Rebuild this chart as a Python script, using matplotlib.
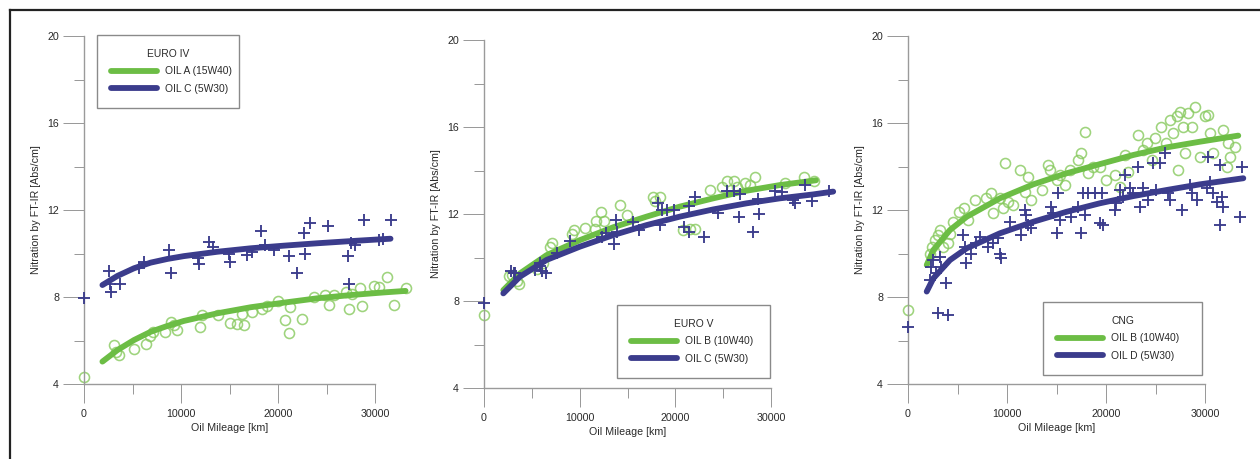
import matplotlib
matplotlib.use("Agg")
import matplotlib.pyplot as plt
from matplotlib.lines import Line2D
from matplotlib.ticker import MultipleLocator

plt.rcParams['font.family'] = ['Liberation Sans', 'DejaVu Sans']

# ---------------- data ----------------
# Panel 1: EURO IV
euro4_oilA_km = [0, 3050, 3250, 3600, 5150, 6400, 6800, 7100, 8400, 8950, 9300, 9600, 12000, 12200,
                 13850, 15000, 15800, 16500, 16300, 17300, 18300, 18900, 19950, 20750, 21150, 21200,
                 22450, 23750, 24800, 25250, 25750, 27000, 27300, 27600, 28500, 28650, 29850, 30400,
                 31250, 32000, 33150]
euro4_oilA_nit = [4.34, 5.8, 5.45, 5.35, 5.62, 5.85, 6.2, 6.4, 6.4, 6.85, 6.7, 6.5, 6.6, 7.15,
                  7.15, 6.8, 6.75, 6.7, 7.2, 7.3, 7.45, 7.6, 7.8, 6.95, 6.35, 7.55,
                  7.0, 8.0, 8.1, 7.65, 8.1, 8.25, 7.45, 8.15, 8.4, 7.6, 8.5, 8.45,
                  8.9, 7.65, 8.4]
euro4_oilC_km = [0, 2600, 2700, 2750, 3750, 5650, 6150, 8800, 8950, 11750, 11850, 12900, 13300,
                 14950, 15100, 16800, 17350, 18200, 18700, 19550, 21100, 22000, 22650, 22750,
                 23350, 25150, 27200, 27300, 27480, 27950, 28900, 30450, 30800, 31700]
euro4_oilC_nit = [7.94, 9.2, 8.6, 8.25, 8.6, 9.35, 9.6, 10.15, 9.1, 9.8, 9.5, 10.55, 10.3,
                  9.98, 9.6, 9.95, 10.05, 11.05, 10.38, 10.15, 9.9, 9.12, 10.95, 10.0,
                  11.38, 11.25, 9.9, 8.6, 10.5, 10.4, 11.55, 10.6, 10.65, 11.55]
euro4_fitA_km = [1900, 3450, 5150, 6870, 8600, 10300, 13750, 17200, 20600, 24050, 27500, 30900, 33150]
euro4_fitA_nit = [5.03, 5.56, 6.02, 6.40, 6.67, 6.90, 7.25, 7.53, 7.74, 7.94, 8.09, 8.21, 8.28]
euro4_fitC_km = [1900, 3450, 5150, 6870, 8600, 10300, 13750, 17200, 20600, 24050, 27500, 31600]
euro4_fitC_nit = [8.55, 8.97, 9.32, 9.58, 9.75, 9.88, 10.08, 10.24, 10.36, 10.47, 10.57, 10.68]

# Panel 2: EURO V
euro5_oilB_km = [0, 2600, 2900, 3500, 3700, 5500, 6200, 6900, 7100, 9200, 9400, 10600, 11600, 11700,
                 12200, 12500, 14200, 14950, 17700, 17900, 18400, 20850, 21550, 22050, 23600,
                 24850, 25400, 26100, 26450, 27300, 27850, 28350, 31450, 33450, 34500]
euro5_oilB_nit = [7.37, 9.15, 9.2, 8.9, 8.8, 9.45, 9.74, 10.5, 10.65, 11.1, 11.25, 11.35, 11.3, 11.66,
                  12.08, 11.7, 12.43, 11.97, 12.78, 12.58, 12.8, 11.27, 11.33, 11.3, 13.1,
                  13.26, 13.5, 13.5, 13.26, 13.42, 13.34, 13.72, 13.42, 13.72, 13.5]
euro5_oilC_km = [0, 2800, 3100, 3250, 5300, 5850, 5850, 6100, 6500, 7600, 9000, 12300, 12750, 13600,
                 13750, 13900, 15600, 16250, 18150, 18400, 18600, 19100, 19900, 20900, 21400,
                 21400, 22050, 23000, 24500, 25450, 26150, 26650, 26800, 28150, 28600, 28750,
                 30450, 31100, 32300, 32500, 33550, 34250, 36100]
euro5_oilC_nit = [7.9, 9.36, 9.27, 9.28, 9.43, 9.6, 9.73, 9.36, 9.27, 10.2, 10.77, 10.96, 11.12, 10.62,
                  11.73, 11.15, 11.65, 11.27, 12.5, 11.5, 12.2, 12.19, 12.19, 11.42, 11.15,
                  12.38, 12.8, 10.96, 12.04, 13.04, 13.04, 11.85, 12.9, 11.15, 12.7, 12.0,
                  13.07, 13.0, 12.65, 12.5, 13.35, 12.6, 13.04]
euro5_fitB_km = [2020, 3760, 6550, 10030, 13510, 17000, 20480, 23960, 27440, 30930, 34700]
euro5_fitB_nit = [8.5, 9.27, 10.11, 10.8, 11.39, 11.88, 12.34, 12.72, 13.07, 13.33, 13.55]
euro5_fitC_km = [2020, 3760, 6550, 10030, 13510, 17000, 20480, 23960, 27440, 30930, 34410, 36500]
euro5_fitC_nit = [8.35, 9.12, 9.89, 10.5, 11.03, 11.49, 11.88, 12.21, 12.49, 12.72, 12.9, 13.03]

# Panel 3: CNG
cng_oilB_km = [0, 2200, 2400, 2700, 3000, 3200, 3500, 4000, 4200, 4550, 5200, 5700, 6050, 6750,
               7900, 8400, 8600, 9250, 9600, 9770, 10100, 10600, 11300, 11800, 12130, 12470,
               13500, 14150, 14300, 15000, 15330, 15850, 16350, 17200, 17500, 17860, 18200,
               18700, 19380, 20050, 20900, 21400, 21900, 22250, 23250, 23760, 24100, 24600,
               24940, 25600, 26100, 26460, 26800, 27130, 27300, 27470, 27800, 27970, 28300,
               28650, 28990, 29500, 30000, 30330, 30500, 30840, 31850, 32360, 32520, 33030, 32190]
cng_oilB_nit = [7.4, 10.0, 10.3, 10.6, 10.85, 11.1, 10.3, 10.5, 10.9, 11.46, 11.9, 12.08, 11.54, 12.46,
                12.54, 12.77, 11.85, 12.54, 12.08, 14.15, 12.38, 12.23, 13.84, 12.85, 13.53, 12.46,
                12.92, 14.07, 13.84, 13.38, 13.6, 13.15, 13.84, 14.3, 14.6, 15.6, 13.69,
                14.0, 14.0, 13.38, 13.6, 13.07, 14.53, 13.76, 15.45, 14.76, 15.07, 14.3,
                15.3, 15.83, 15.07, 16.14, 15.53, 16.3, 13.84, 16.52, 15.83, 14.6, 16.44,
                15.83, 16.75, 14.45, 16.3, 16.37, 15.53, 14.6, 15.68, 15.07, 14.45, 14.9, 14.0]
cng_oilD_km = [0, 2200, 2360, 2530, 2860, 3200, 3370, 3030, 4040, 3880, 5560, 5730, 5900, 6400,
               6900, 7250, 8090, 8600, 9100, 9270, 9440, 10280, 11460, 11800, 11960, 12130,
               12470, 14490, 14660, 15000, 15170, 15330, 16500, 17200, 17520, 17700, 17860,
               18200, 18870, 19380, 19720, 19550, 20900, 21060, 21400, 21740, 21900, 22400,
               22750, 23250, 23420, 23760, 24270, 24770, 25450, 25100, 25950, 26300, 26460,
               27640, 28480, 28650, 29150, 30170, 30330, 30500, 30840, 31180, 31510, 31510,
               31680, 31850, 33540, 33700]
cng_oilD_nit = [6.64, 8.78, 9.4, 9.7, 9.1, 9.85, 9.4, 7.25, 7.17, 8.63, 10.85, 10.3, 9.55, 10.0,
                10.47, 10.77, 10.3, 10.47, 10.7, 10.0, 9.78, 11.46, 10.85, 12.0, 11.77, 11.3,
                11.15, 12.15, 11.85, 10.93, 12.77, 11.54, 11.7, 12.15, 10.93, 12.77, 11.77,
                12.77, 12.77, 11.38, 11.3, 12.77, 12.0, 12.3, 12.92, 12.6, 13.6, 13.0,
                12.77, 14.0, 12.15, 13.0, 12.46, 14.15, 14.15, 12.92, 14.6, 12.77, 12.46,
                12.0, 13.15, 12.77, 12.46, 13.0, 14.45, 13.3, 12.77, 12.38, 14.07, 11.3,
                12.6, 12.15, 11.7, 14.0]
cng_fitB_km = [1890, 2560, 4240, 5930, 9290, 12660, 16030, 19390, 22760, 26130, 29490, 33360]
cng_fitB_nit = [9.47, 10.16, 11.08, 11.69, 12.54, 13.18, 13.69, 14.11, 14.53, 14.88, 15.14, 15.42]
cng_fitD_km = [1890, 2560, 4240, 5930, 9290, 12660, 16030, 19390, 22760, 26130, 29490, 33870]
cng_fitD_nit = [8.25, 8.86, 9.7, 10.24, 10.93, 11.46, 11.92, 12.31, 12.64, 12.92, 13.18, 13.46]

x_major_ticks = [0, 10000, 20000, 30000]
y_major_ticks = [4, 8, 12, 16, 20]

# ---------------- styling ----------------
W, H = 1260, 459
GREEN = '#6cbd45'
GREEN_PT = '#86c95c'
BLUE = '#3b3c8c'
AXC = '#9a9a9a'
TXT = '#2a2a2a'
FS = 7.7
PX = 72 / 100.0  # points per pixel

fig = plt.figure(figsize=(W / 100, H / 100), dpi=100)
fig.patch.set_facecolor('white')

# outer frame (left and top edges visible)
fig.add_artist(Line2D([10 / W, 10 / W], [1 - 10 / H, -0.05], transform=fig.transFigure,
                      color='#222222', lw=1.6))
fig.add_artist(Line2D([10 / W, 1.05], [1 - 10 / H, 1 - 10 / H], transform=fig.transFigure,
                      color='#222222', lw=1.6))


def make_panel(left, top, x30, bottom):
    ax = fig.add_axes([left / W, 1 - bottom / H, (x30 - left) / W, (bottom - top) / H])
    ax.set_xlim(0, 30000)
    ax.set_ylim(4, 20)
    ax.patch.set_alpha(0)
    for s in ('top', 'right'):
        ax.spines[s].set_visible(False)
    for s in ('left', 'bottom'):
        ax.spines[s].set_color(AXC)
        ax.spines[s].set_linewidth(1.0)
    ax.set_xticks(x_major_ticks)
    ax.set_yticks(y_major_ticks)
    ax.xaxis.set_minor_locator(MultipleLocator(5000))
    ax.yaxis.set_minor_locator(MultipleLocator(2))
    ax.tick_params(axis='x', which='major', direction='out', length=19 * PX, width=1 * PX,
                   color=AXC, labelsize=FS, labelcolor=TXT, pad=6 * PX)
    ax.tick_params(axis='x', which='minor', direction='out', length=10 * PX, width=1 * PX,
                   color=AXC)
    ax.tick_params(axis='y', which='major', direction='out', length=21 * PX, width=1 * PX,
                   color=AXC, labelsize=FS, labelcolor=TXT, pad=4 * PX)
    ax.tick_params(axis='y', which='minor', direction='out', length=10 * PX, width=1 * PX,
                   color=AXC)
    wpx = x30 - left
    hpx = bottom - top
    ax.set_xlabel('Oil Mileage [km]', fontsize=FS, color=TXT, va='center')
    ax.xaxis.set_label_coords(0.5, -44 / hpx)
    ax.set_ylabel('Nitration by FT-IR [Abs/cm]', fontsize=FS, color=TXT, va='center')
    ax.yaxis.set_label_coords(-48 / wpx, 0.5)
    return ax


def draw(ax, gx, gy, bx, by, gfx, gfy, bfx, bfy, glabel, blabel, title, leg_px):
    ax.plot(gx, gy, 'o', ms=7.2, mfc='none', mec=GREEN_PT, mew=1.15, alpha=0.8, clip_on=False,
            zorder=2)
    lg, = ax.plot(gfx, gfy, '-', color=GREEN, lw=4.2, solid_capstyle='round',
                  solid_joinstyle='round', clip_on=False, zorder=3, label=glabel)
    ax.plot(bx, by, '+', ms=8.0, color=BLUE, mew=1.35, clip_on=False, zorder=4)
    lb, = ax.plot(bfx, bfy, '-', color=BLUE, lw=4.2, solid_capstyle='round',
                  solid_joinstyle='round', clip_on=False, zorder=5, label=blabel)
    x0, y0, w = leg_px
    leg = ax.legend(handles=[lg, lb], title=title, loc='upper left',
                    bbox_to_anchor=(x0 / W, 1 - y0 / H - 0.3, w / W, 0.3),
                    bbox_transform=fig.transFigure, mode='expand',
                    fontsize=7.4, title_fontsize=7.4, frameon=True, fancybox=False,
                    edgecolor='#8a8a8a', framealpha=1, borderpad=1.35,
                    labelspacing=0.72, handlelength=4.5, handletextpad=0.8,
                    borderaxespad=0)
    leg.get_frame().set_linewidth(1.0)
    leg.get_title().set_color(TXT)
    for t in leg.get_texts():
        t.set_color(TXT)
    leg.set_zorder(10)


ax1 = make_panel(84, 36, 375, 384)
draw(ax1, euro4_oilA_km, euro4_oilA_nit, euro4_oilC_km, euro4_oilC_nit,
     euro4_fitA_km, euro4_fitA_nit, euro4_fitC_km, euro4_fitC_nit,
     'OIL A (15W40)', 'OIL C (5W30)', 'EURO IV', (97, 35, 142))

ax2 = make_panel(484, 40, 771, 388)
draw(ax2, euro5_oilB_km, euro5_oilB_nit, euro5_oilC_km, euro5_oilC_nit,
     euro5_fitB_km, euro5_fitB_nit, euro5_fitC_km, euro5_fitC_nit,
     'OIL B (10W40)', 'OIL C (5W30)', 'EURO V', (617, 305, 153))

ax3 = make_panel(908, 36, 1205, 384)
draw(ax3, cng_oilB_km, cng_oilB_nit, cng_oilD_km, cng_oilD_nit,
     cng_fitB_km, cng_fitB_nit, cng_fitD_km, cng_fitD_nit,
     'OIL B (10W40)', 'OIL D (5W30)', 'CNG', (1043, 302, 159))

fig.savefig('out.png', dpi=100)
